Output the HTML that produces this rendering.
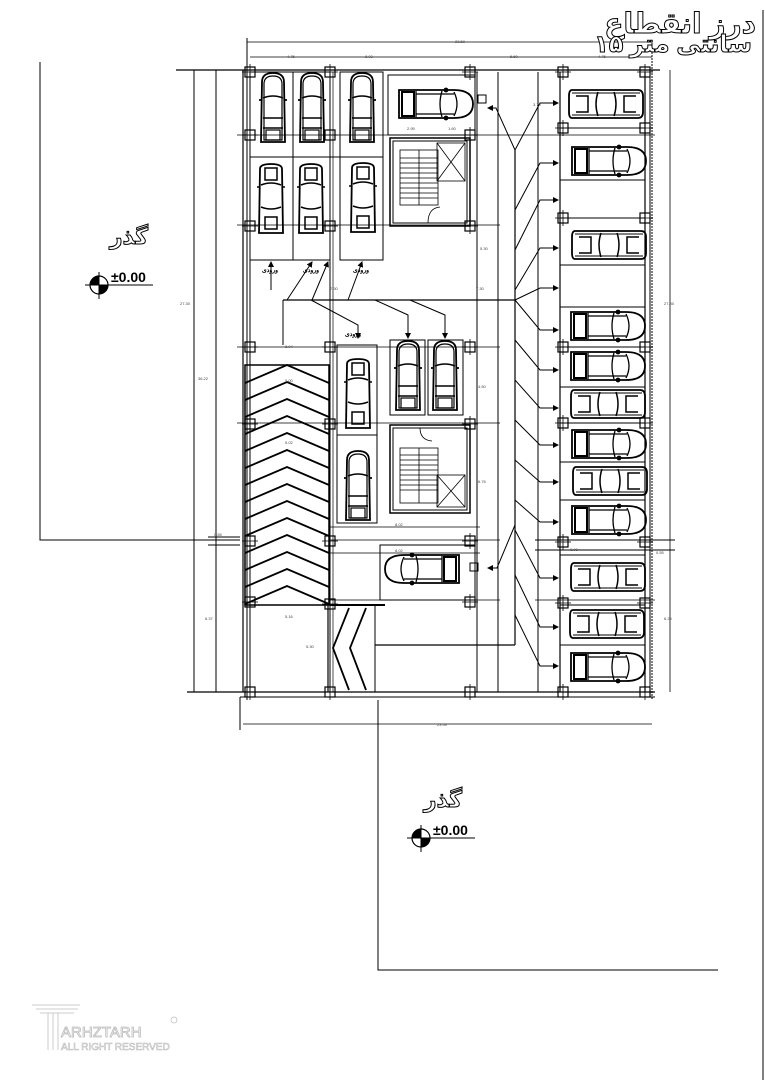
<!DOCTYPE html>
<html><head><meta charset="utf-8"><style>
html,body{margin:0;padding:0;background:#fff;}
svg{display:block;}
.t{font-family:"Liberation Sans",sans-serif;font-size:4px;fill:#444;}
.ar{font-family:"Liberation Sans","DejaVu Sans",sans-serif;fill:#fff;stroke:#000;stroke-width:1;font-weight:bold;}
</style></head><body>
<svg width="765" height="1080" viewBox="0 0 765 1080" xmlns="http://www.w3.org/2000/svg">
<defs>
<symbol id="cv" viewBox="0 0 30 72" width="30" height="72" overflow="visible">
<g fill="none" stroke="#000" stroke-width="1.8">
<path d="M4,10 Q4,1 15,1 Q26,1 26,10 L27,70 L3,70 Z"/>
<path d="M6,12 Q6,4 15,4 Q24,4 24,12 L24,68 L6,68 Z" stroke-width="1.2"/>
<path d="M5,26 Q15,22 25,26 M5,46 L25,46 M5,56 L25,56" stroke-width="1.4"/>
<path d="M1,28 L4,28 M26,28 L29,28"/>
<rect x="8" y="58" width="14" height="10" stroke-width="1.2"/>
</g></symbol>
<symbol id="cu" viewBox="0 0 30 72" width="30" height="72" overflow="visible">
<g fill="none" stroke="#000" stroke-width="1.5">
<path d="M4,6 Q4,1 15,1 Q26,1 26,6 L27,70 L3,70 Z" stroke-width="1.8"/>
<rect x="9" y="5" width="12" height="12"/>
<path d="M5,22 Q15,18 25,22 M5,44 Q15,48 25,44"/>
<rect x="9" y="54" width="12" height="12"/>
<path d="M1,24 L4,24 M26,24 L29,24"/>
</g></symbol>
<symbol id="ch" viewBox="0 0 76 32" width="76" height="32" overflow="visible">
<g fill="none" stroke="#000" stroke-width="1.8">
<path d="M1,2 L56,2 Q75,2 75,16 Q75,30 56,30 L1,30 Z"/>
<rect x="4" y="4" width="12" height="24" stroke-width="2"/>
<path d="M18,3 L18,29 M44,3 Q40,16 44,29 M56,4 Q62,16 56,28 M18,6 L56,6 M18,26 L56,26" stroke-width="1.3"/>
<circle cx="48" cy="2" r="1.5"/><circle cx="48" cy="30" r="1.5"/>
</g></symbol>
<symbol id="cs" viewBox="0 0 76 32" width="76" height="32" overflow="visible">
<g fill="none" stroke="#000" stroke-width="1.5">
<path d="M4,2 L70,2 Q75,2 75,8 L75,24 Q75,30 70,30 L4,30 Q1,30 1,24 L1,8 Q1,2 4,2 Z" stroke-width="1.8"/>
<path d="M4,5 L72,5 M4,27 L72,27" stroke-width="1"/>
<path d="M8,8 L20,8 L20,24 L8,24 M30,4 Q26,16 30,28 M46,4 Q50,16 46,28 M68,8 L56,8 L56,24 L68,24"/>
</g></symbol>
<symbol id="col" viewBox="0 0 12 12" width="12" height="12" overflow="visible">
<rect x="1" y="1" width="10" height="10" fill="none" stroke="#000" stroke-width="1.2"/>
<path d="M6,-2 L6,14 M-2,6 L14,6" stroke="#000" stroke-width="0.8"/>
</symbol>
<marker id="ah" markerWidth="6" markerHeight="6" refX="5" refY="3" orient="auto"><path d="M0,0 L6,3 L0,6 Z" fill="#000"/></marker>
</defs>

<g fill="none" stroke="#000" stroke-width="1">
<line x1="763" y1="10" x2="763" y2="1080" stroke-width="1"/>
<path d="M40,62 L40,540 L240,540"/>
<path d="M378,700 L378,970 L718,970"/>
<line x1="247" y1="42" x2="652" y2="42" stroke-width="0.8"/>
<line x1="250" y1="57" x2="652" y2="57" stroke-width="0.8"/>
<line x1="247" y1="38" x2="247" y2="700"/>
<line x1="652" y1="40" x2="652" y2="700" stroke-dasharray="2,1"/>
<line x1="650" y1="68" x2="650" y2="692"/>
<line x1="670" y1="70" x2="670" y2="692" stroke-width="0.8"/>
<line x1="176" y1="70" x2="660" y2="70" stroke-width="1.2"/>
<line x1="194" y1="70" x2="194" y2="692"/>
<line x1="216" y1="70" x2="216" y2="692"/>
<line x1="187" y1="692" x2="655" y2="692" stroke-width="1.2"/>
<line x1="243" y1="70" x2="243" y2="692" stroke-width="1.2"/>
<line x1="240" y1="697" x2="655" y2="697"/>
<line x1="240" y1="697" x2="240" y2="730"/>
<line x1="243" y1="724" x2="652" y2="724" stroke-width="0.8"/>
<line x1="208" y1="537" x2="240" y2="537"/><line x1="208" y1="545" x2="240" y2="545"/>
<line x1="250" y1="72" x2="250" y2="692"/>
<line x1="330" y1="72" x2="330" y2="692"/>
<line x1="333" y1="72" x2="333" y2="692" stroke-width="0.7"/>
<line x1="477" y1="72" x2="477" y2="692"/>
<line x1="498" y1="72" x2="498" y2="692"/>
<line x1="515" y1="150" x2="515" y2="645" stroke-width="1.2"/>
<line x1="538" y1="72" x2="538" y2="692"/>
<line x1="560" y1="72" x2="560" y2="692" stroke-width="1.2"/>
<line x1="645" y1="72" x2="645" y2="692" stroke-width="1.2"/>
<line x1="283" y1="300" x2="515" y2="300" stroke-width="1.2"/>
<line x1="283" y1="300" x2="283" y2="345"/>
<line x1="375" y1="645" x2="515" y2="645" stroke-width="1.2"/>
<line x1="375" y1="605" x2="375" y2="692"/>
<line x1="237" y1="135" x2="655" y2="135" stroke-width="0.7"/>
<line x1="237" y1="225" x2="500" y2="225" stroke-width="0.7"/>
<line x1="237" y1="347" x2="500" y2="347" stroke-width="0.7"/>
<line x1="237" y1="423" x2="500" y2="423" stroke-width="0.7"/>
<line x1="535" y1="540" x2="675" y2="540"/>
<line x1="535" y1="550" x2="675" y2="550"/>
<line x1="535" y1="600" x2="655" y2="600" stroke-width="0.7"/>
<line x1="330" y1="540" x2="500" y2="540" stroke-width="0.7"/>
<line x1="330" y1="600" x2="500" y2="600" stroke-width="0.7"/>
<line x1="330" y1="527" x2="480" y2="527" stroke-width="0.7"/>
<line x1="330" y1="553" x2="480" y2="553" stroke-width="0.7"/>
<rect x="250" y="72" width="43" height="188"/>
<rect x="293" y="72" width="37" height="188"/>
<rect x="340" y="72" width="43" height="188"/>
<line x1="250" y1="157" x2="383" y2="157"/>
<rect x="388" y="75" width="87" height="60"/>
<rect x="390" y="138" width="80" height="88" stroke-width="1.5"/>
<rect x="393" y="141" width="74" height="82"/>
<g stroke-width="0.8"><rect x="400" y="150" width="38" height="55"/>
<path d="M400,158 L438,158 M400,163 L438,163 M400,168 L438,168 M400,173 L438,173 M400,178 L438,178 M400,183 L438,183 M400,188 L438,188 M400,193 L438,193 M400,198 L438,198 M419,150 L419,205"/>
<rect x="437" y="143" width="28" height="38"/><path d="M437,143 L465,181 M465,143 L437,181"/>
</g>
<path d="M428,223 Q428,208 440,207" stroke-width="0.8"/>
<rect x="390" y="340" width="35" height="75"/>
<rect x="428" y="340" width="35" height="75"/>
<rect x="337" y="345" width="40" height="178"/>
<line x1="337" y1="435" x2="377" y2="435"/>
<rect x="390" y="425" width="80" height="88" stroke-width="1.5"/>
<rect x="393" y="428" width="74" height="82"/>
<g stroke-width="0.8"><rect x="400" y="448" width="38" height="55"/>
<path d="M400,455 L438,455 M400,460 L438,460 M400,465 L438,465 M400,470 L438,470 M400,475 L438,475 M400,480 L438,480 M400,485 L438,485 M400,490 L438,490 M419,448 L419,503"/>
<rect x="437" y="475" width="28" height="32"/><path d="M437,475 L465,507 M465,475 L437,507"/>
</g>
<path d="M420,428 Q420,440 432,441" stroke-width="0.8"/>
<rect x="380" y="545" width="95" height="55"/>
<rect x="245" y="365" width="84" height="240" stroke-width="1.5"/>
<g stroke-width="1.8">
<path d="M245,383 L287,365 L329,383"/><path d="M245,400 L287,382 L329,400"/>
<path d="M245,417 L287,399 L329,417"/><path d="M245,434 L287,416 L329,434"/>
<path d="M245,451 L287,433 L329,451"/><path d="M245,468 L287,450 L329,468"/>
<path d="M245,485 L287,467 L329,485"/><path d="M245,502 L287,484 L329,502"/>
<path d="M245,519 L287,501 L329,519"/><path d="M245,536 L287,518 L329,536"/>
<path d="M245,553 L287,535 L329,553"/><path d="M245,570 L287,552 L329,570"/>
<path d="M245,587 L287,569 L329,587"/><path d="M245,604 L287,586 L329,604"/>
</g>
<line x1="330" y1="605" x2="385" y2="605" stroke-width="2"/>
<g stroke-width="1.8">
<path d="M349,608 L333,648 L349,690"/><path d="M366,608 L350,648 L366,690"/>
</g>
<line x1="328" y1="605" x2="328" y2="692" stroke-width="1.2"/>
<g stroke-width="1">
<line x1="560" y1="128" x2="645" y2="128"/><line x1="560" y1="180" x2="645" y2="180"/>
<line x1="560" y1="218" x2="645" y2="218"/><line x1="560" y1="265" x2="645" y2="265"/>
<line x1="560" y1="307" x2="645" y2="307"/><line x1="560" y1="347" x2="645" y2="347"/>
<line x1="560" y1="387" x2="645" y2="387"/><line x1="560" y1="423" x2="645" y2="423"/>
<line x1="560" y1="462" x2="645" y2="462"/><line x1="560" y1="500" x2="645" y2="500"/>
<line x1="560" y1="555" x2="645" y2="555"/><line x1="560" y1="605" x2="645" y2="605"/>
<line x1="560" y1="645" x2="645" y2="645"/>
</g>
<g stroke-width="1" marker-end="url(#ah)">
<path d="M515,150 L540,103 L558,103"/>
<path d="M515,210 L540,163 L558,163"/>
<path d="M515,250 L540,200 L558,200"/>
<path d="M515,290 L540,248 L558,248"/>
<path d="M515,300 L540,288 L558,288"/>
<path d="M515,300 L540,330 L558,330"/>
<path d="M515,340 L540,370 L558,370"/>
<path d="M515,380 L540,408 L558,408"/>
<path d="M515,420 L540,445 L558,445"/>
<path d="M515,460 L540,482 L558,482"/>
<path d="M515,500 L540,522 L558,522"/>
<path d="M515,530 L540,578 L558,578"/>
<path d="M515,575 L540,627 L558,627"/>
<path d="M515,615 L540,666 L558,666"/>
<path d="M515,150 L496,108 L488,108"/>
<path d="M515,525 L497,568 L488,568"/>
<path d="M271,290 L271,262"/><path d="M287,300 L312,262"/><path d="M312,300 L328,262"/>
<path d="M348,300 L362,262"/>
<path d="M311,300 L358,325 L358,338"/>
<path d="M375,300 L408,315 L408,338"/>
<path d="M410,300 L445,315 L445,338"/>
</g>
</g>

<use href="#cv" x="258" y="72"/><use href="#cv" x="297" y="72"/><use href="#cv" x="347" y="72"/>
<use href="#cu" x="256" y="163"/><use href="#cu" x="296" y="163"/><use href="#cu" x="348" y="162"/>
<use href="#ch" x="398" y="88"/>
<use href="#cv" x="393" y="340"/><use href="#cv" x="430" y="340"/>
<use href="#cu" x="343" y="358"/><use href="#cv" x="343" y="450"/>
<g transform="translate(460,553) scale(-1,1)"><use href="#ch" x="0" y="0"/></g>
<use href="#cs" x="568" y="88"/><use href="#ch" x="571" y="145"/>
<use href="#cs" x="571" y="229"/><use href="#ch" x="570" y="310"/>
<use href="#ch" x="570" y="350"/><use href="#cs" x="570" y="388"/>
<use href="#ch" x="571" y="428"/><use href="#cs" x="572" y="465"/>
<use href="#ch" x="571" y="504"/><use href="#cs" x="570" y="561"/>
<use href="#cs" x="569" y="608"/><use href="#ch" x="570" y="651"/>

<g>
<use href="#col" x="244" y="66"/><use href="#col" x="324" y="66"/><use href="#col" x="464" y="66"/><use href="#col" x="557" y="66"/><use href="#col" x="639" y="66"/>
<use href="#col" x="244" y="129"/><use href="#col" x="324" y="129"/><use href="#col" x="464" y="129"/><use href="#col" x="557" y="122"/><use href="#col" x="639" y="122"/>
<use href="#col" x="244" y="220"/><use href="#col" x="324" y="220"/><use href="#col" x="464" y="220"/><use href="#col" x="557" y="212"/><use href="#col" x="639" y="212"/>
<use href="#col" x="244" y="341"/><use href="#col" x="324" y="341"/><use href="#col" x="464" y="341"/><use href="#col" x="557" y="341"/><use href="#col" x="639" y="341"/>
<use href="#col" x="244" y="418"/><use href="#col" x="324" y="418"/><use href="#col" x="464" y="418"/><use href="#col" x="557" y="417"/><use href="#col" x="639" y="417"/>
<use href="#col" x="244" y="535"/><use href="#col" x="324" y="535"/><use href="#col" x="464" y="535"/><use href="#col" x="557" y="536"/><use href="#col" x="639" y="536"/>
<use href="#col" x="244" y="596"/><use href="#col" x="324" y="598"/><use href="#col" x="464" y="596"/><use href="#col" x="557" y="597"/><use href="#col" x="639" y="597"/>
<use href="#col" x="244" y="686"/><use href="#col" x="324" y="686"/><use href="#col" x="464" y="686"/><use href="#col" x="557" y="686"/><use href="#col" x="639" y="686"/>
</g>
<rect x="478" y="95" width="8" height="8" fill="none" stroke="#000"/>
<rect x="470" y="563" width="8" height="8" fill="none" stroke="#000"/>

<g class="t">
<text x="287" y="58">4.75</text><text x="365" y="58">8.03</text><text x="510" y="58">5.50</text><text x="598" y="58">4.75</text>
<text x="455" y="43">23.50</text><text x="437" y="726">23.50</text>
<text x="180" y="305">27.30</text><text x="198" y="380">36.22</text><text x="664" y="305">27.80</text>
<text x="205" y="620">6.37</text><text x="664" y="620">6.25</text>
<text x="285" y="348">8.94</text><text x="285" y="382">5.00</text><text x="285" y="444">5.02</text>
<text x="395" y="526">8.02</text><text x="395" y="552">8.02</text><text x="285" y="618">5.16</text>
<text x="306" y="648">5.30</text><text x="476" y="290">7.30</text><text x="330" y="290">7.30</text>
<text x="570" y="551">0.00</text><text x="214" y="536">0.55</text><text x="656" y="554">0.55</text>
<text x="407" y="130">2.95</text><text x="448" y="130">1.60</text>
<text x="533" y="106">3.70</text><text x="480" y="250">5.30</text><text x="478" y="388">4.50</text><text x="478" y="483">6.76</text>
</g>
<g font-family="Liberation Sans,sans-serif" font-size="6" font-weight="bold">
<text x="262" y="272">ورودی</text><text x="303" y="272">ورودی</text><text x="353" y="272">ورودی</text><text x="345" y="336">ورودی</text>
</g>

<text class="ar" x="756" y="33" font-size="28" text-anchor="end">درز انقطاع</text>
<text class="ar" x="752" y="52" font-size="24" text-anchor="end">۱۵ سانتی متر</text>
<text class="ar" x="148" y="244" font-size="22" text-anchor="end">گذر</text>
<text class="ar" x="462" y="807" font-size="22" text-anchor="end">گذر</text>

<g>
<circle cx="99" cy="285" r="9" fill="#fff" stroke="#000" stroke-width="1.2"/>
<path d="M99,285 L99,276 A9,9 0 0 0 90,285 Z M99,285 L99,294 A9,9 0 0 0 108,285 Z" fill="#000"/>
<path d="M99,272 L99,299 M85,285 L153,285" stroke="#000" stroke-width="1"/>
<text x="111" y="282" font-family="Liberation Sans,sans-serif" font-size="14" font-weight="bold">±0.00</text>
<circle cx="421" cy="838" r="9" fill="#fff" stroke="#000" stroke-width="1.2"/>
<path d="M421,838 L421,829 A9,9 0 0 0 412,838 Z M421,838 L421,847 A9,9 0 0 0 430,838 Z" fill="#000"/>
<path d="M421,825 L421,852 M407,838 L475,838" stroke="#000" stroke-width="1"/>
<text x="433" y="835" font-family="Liberation Sans,sans-serif" font-size="14" font-weight="bold">±0.00</text>
</g>

<g fill="none" stroke="#ccc" stroke-width="1">
<path d="M32,1005 L80,1005 M36,1009 L78,1009 M40,1013 L74,1013 M48,1013 L48,1050 M53,1013 L53,1050 M58,1013 L58,1050"/>
</g>
<text x="61" y="1037" font-family="Liberation Sans,sans-serif" font-size="15" fill="#fff" stroke="#bbb" stroke-width="0.8">ARHZTARH</text>
<text x="61" y="1050" font-family="Liberation Sans,sans-serif" font-size="10" fill="#fff" stroke="#bbb" stroke-width="0.6">ALL RIGHT RESERVED</text>
<circle cx="174" cy="1020" r="3" fill="none" stroke="#bbb" stroke-width="0.7"/>
</svg>
</body></html>
